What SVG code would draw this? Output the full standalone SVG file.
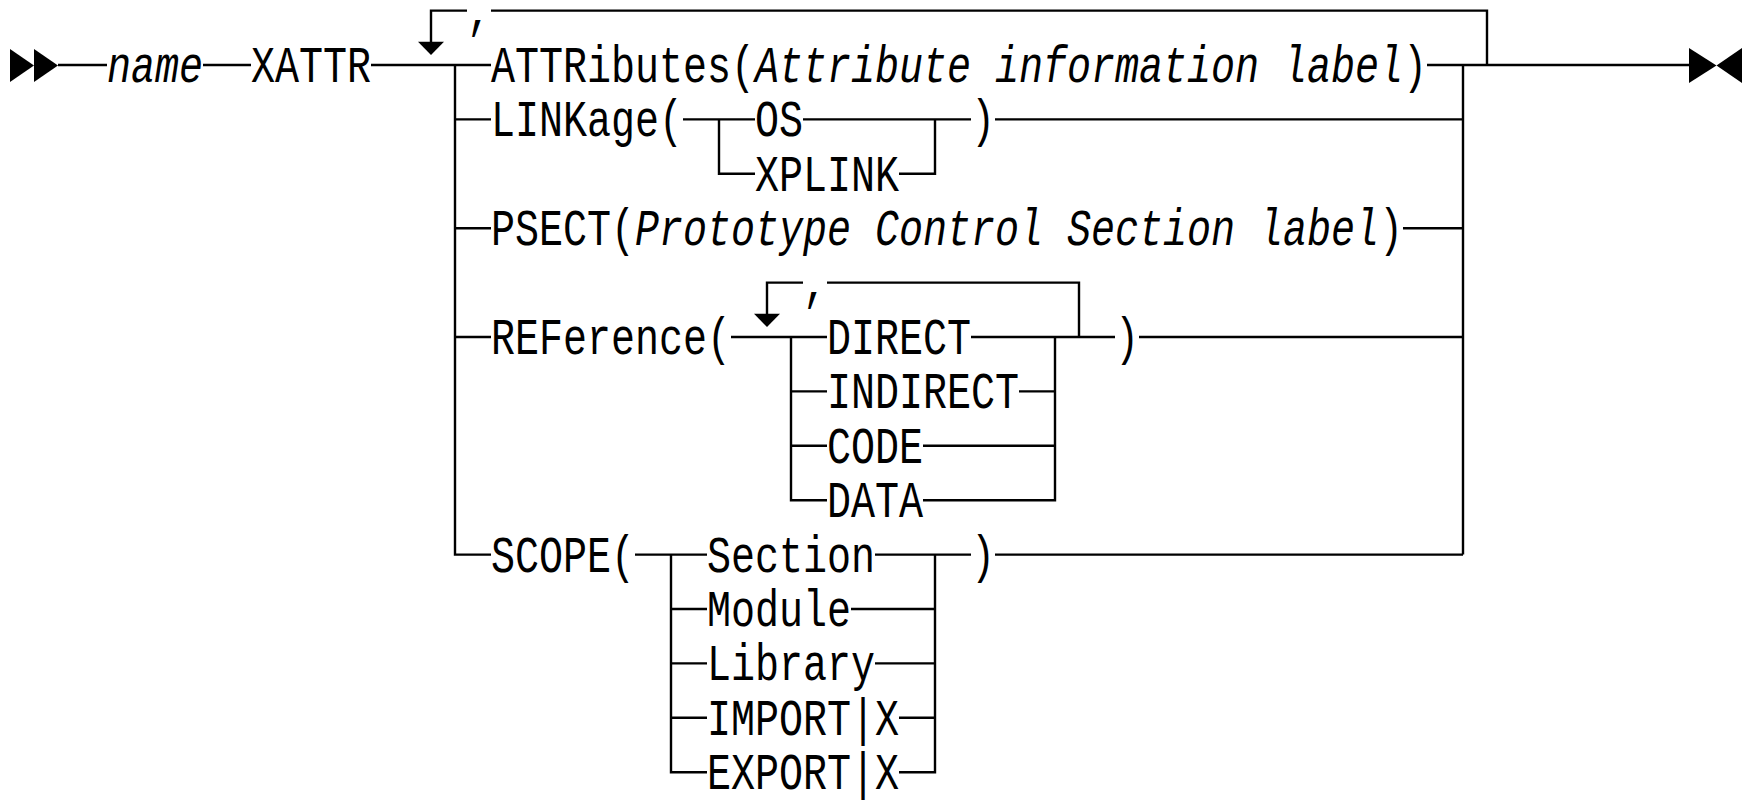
<svg xmlns="http://www.w3.org/2000/svg" width="1743" height="801" viewBox="0 0 1743 801">
  <style>
    .t { font-family: "Liberation Mono", "Courier New", monospace; font-size: 40px; fill: #000; }
    .i { font-style: italic; }
    .ln { fill: none; stroke: #000; stroke-width: 2.4; stroke-linecap: butt; stroke-linejoin: miter; }
    .ah { fill: #000; stroke: none; }
  </style>
  <rect width="1743" height="801" fill="#fff"/>

  <!-- connectors: rails, branch bars and repeat loops -->
  <g id="connectors">
    <!-- main rail -->
    <path class="ln" d="M58,65 H107 M203,65 H251 M371,65 H491 M1427,65 H1690"/>
    <!-- outer repeat loop with separator -->
    <path class="ln" d="M431,42 V10.6 H467 M491,10.6 H1487 V65"/>
    <polygon class="ah" points="418,41.7 444,41.7 431,55"/>
    <!-- option bars -->
    <path class="ln" d="M455,65 V554.6 H491"/>
    <path class="ln" d="M1463,65 V554.6"/>
    <path class="ln" d="M455,119.4 H491 M455,228.2 H491 M455,337 H491"/>
    <!-- LINKage row -->
    <path class="ln" d="M683,119.4 H755 M803,119.4 H971 M995,119.4 H1463"/>
    <path class="ln" d="M719,119.4 V173.8 H755 M899,173.8 H935 V119.4"/>
    <!-- PSECT row -->
    <path class="ln" d="M1403,228.2 H1463"/>
    <!-- REFerence row -->
    <path class="ln" d="M731,337 H827 M971,337 H1115 M1139,337 H1463"/>
    <path class="ln" d="M767,314 V282.6 H803 M827,282.6 H1079 V337"/>
    <polygon class="ah" points="754,313.7 780,313.7 767,327"/>
    <path class="ln" d="M791,337 V500.2 H827 M791,391.4 H827 M791,445.8 H827"/>
    <path class="ln" d="M1019,391.4 H1055 M923,445.8 H1055 M923,500.2 H1055 V337"/>
    <!-- SCOPE row -->
    <path class="ln" d="M635,554.6 H707 M875,554.6 H971 M995,554.6 H1463"/>
    <path class="ln" d="M671,554.6 V772.2 H707 M671,609 H707 M671,663.4 H707 M671,717.8 H707"/>
    <path class="ln" d="M851,609 H935 M875,663.4 H935 M899,717.8 H935 M899,772.2 H935 V554.6"/>
  </g>

  <!-- start and end markers -->
  <g id="start">
    <polygon class="ah" points="10,49 10,82 34,65.5"/>
    <polygon class="ah" points="34,49 34,82 58,65.5"/>
  </g>
  <g id="end">
    <polygon class="ah" points="1689,48 1689,83 1716.5,65.5"/>
    <polygon class="ah" points="1742,48 1742,83 1716.5,65.5"/>
  </g>

  <g id="name"><text class="t i" transform="translate(107,82) scale(1,1.28)">name</text></g>
  <g id="xattr"><text class="t" transform="translate(251,82) scale(1,1.28)">XATTR</text></g>
  <g id="sep-outer"><text class="t" transform="translate(467,27.6) scale(1,1.28)">,</text></g>

  <g id="attributes"><text class="t" transform="translate(491,82) scale(1,1.28)">ATTRibutes(<tspan class="i">Attribute information label</tspan>)</text></g>

  <g id="linkage"><text class="t" transform="translate(491,136.4) scale(1,1.28)">LINKage(</text></g>
  <g id="linkage-os"><text class="t" transform="translate(755,136.4) scale(1,1.28)">OS</text></g>
  <g id="linkage-xplink"><text class="t" transform="translate(755,190.8) scale(1,1.28)">XPLINK</text></g>
  <g id="linkage-close"><text class="t" transform="translate(971,136.4) scale(1,1.28)">)</text></g>

  <g id="psect"><text class="t" transform="translate(491,245.2) scale(1,1.28)">PSECT(<tspan class="i">Prototype Control Section label</tspan>)</text></g>

  <g id="reference"><text class="t" transform="translate(491,354) scale(1,1.28)">REFerence(</text></g>
  <g id="sep-reference"><text class="t" transform="translate(803,299.6) scale(1,1.28)">,</text></g>
  <g id="ref-direct"><text class="t" transform="translate(827,354) scale(1,1.28)">DIRECT</text></g>
  <g id="ref-indirect"><text class="t" transform="translate(827,408.4) scale(1,1.28)">INDIRECT</text></g>
  <g id="ref-code"><text class="t" transform="translate(827,462.8) scale(1,1.28)">CODE</text></g>
  <g id="ref-data"><text class="t" transform="translate(827,517.2) scale(1,1.28)">DATA</text></g>
  <g id="reference-close"><text class="t" transform="translate(1115,354) scale(1,1.28)">)</text></g>

  <g id="scope"><text class="t" transform="translate(491,571.6) scale(1,1.28)">SCOPE(</text></g>
  <g id="scope-section"><text class="t" transform="translate(707,571.6) scale(1,1.28)">Section</text></g>
  <g id="scope-module"><text class="t" transform="translate(707,626) scale(1,1.28)">Module</text></g>
  <g id="scope-library"><text class="t" transform="translate(707,680.4) scale(1,1.28)">Library</text></g>
  <g id="scope-import"><text class="t" transform="translate(707,734.8) scale(1,1.28)">IMPORT|X</text></g>
  <g id="scope-export"><text class="t" transform="translate(707,789.2) scale(1,1.28)">EXPORT|X</text></g>
  <g id="scope-close"><text class="t" transform="translate(971,571.6) scale(1,1.28)">)</text></g>
</svg>
